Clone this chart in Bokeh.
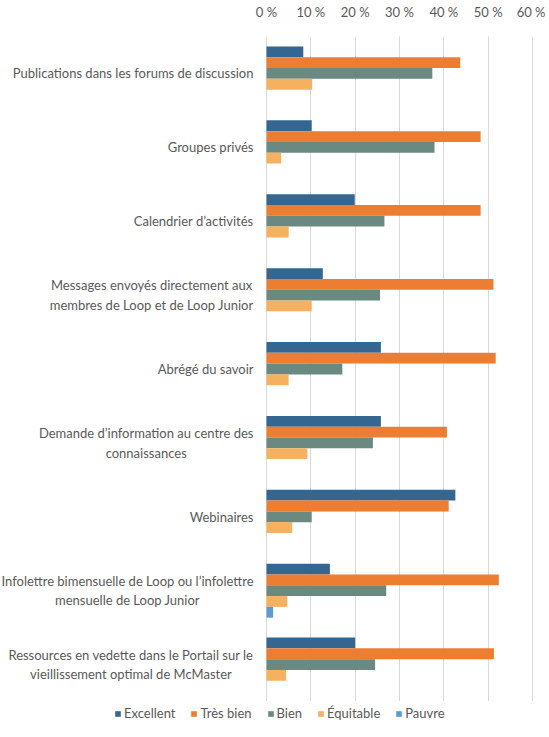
from bokeh.plotting import figure
from bokeh.models import FactorRange, ColumnDataSource, FixedTicker, Legend, LegendItem
from bokeh.layouts import column
from bokeh.transform import dodge
from bokeh.core.properties import value
from bokeh.embed import file_html
from bokeh.resources import INLINE

categories = [
    "Publications dans les forums de discussion",
    "Groupes privés",
    "Calendrier d’activités",
    "Messages envoyés directement aux\nmembres de Loop et de Loop Junior",
    "Abrégé du savoir",
    "Demande d’information au centre des\nconnaissances",
    "Webinaires",
    "Infolettre bimensuelle de Loop ou l’infolettre\nmensuelle de Loop Junior",
    "Ressources en vedette dans le Portail sur le\nvieillissement optimal de McMaster",
]
series = ["Excellent", "Très bien", "Bien", "Équitable", "Pauvre"]
excellent = [8.3, 10.2, 19.9, 12.7, 25.8, 25.8, 42.6, 14.3, 20.0]
tres_bien = [43.7, 48.3, 48.3, 51.2, 51.7, 40.7, 41.1, 52.4, 51.3]
bien = [37.4, 37.9, 26.6, 25.6, 17.1, 24.0, 10.2, 27.0, 24.5]
equitable = [10.3, 3.3, 5.0, 10.2, 5.0, 9.2, 5.8, 4.7, 4.4]
pauvre = [0, 0, 0, 0, 0, 0, 0, 1.5, 0]
tick_values = [0, 10, 20, 30, 40, 50, 60]
tick_labels = ["0 %", "10 %", "20 %", "30 %", "40 %", "50 %", "60 %"]

colors = ["#336791", "#ED7D31", "#6A8981", "#F5B060", "#5A9BD5"]
FONT = "Lato"
TXT = "#595959"
FS = "13px"

W = 545
ZERO_PX = 266       # where 0 % sits inside the figure
MAX_PX = 532        # where 60 % sits inside the figure
XMAX = 60
ppu = (MAX_PX - ZERO_PX) / XMAX
x_start = -ZERO_PX / ppu
x_end = (W - ZERO_PX) / ppu

src = ColumnDataSource(dict(cat=categories, e=excellent, tb=tres_bien, b=bien, q=equitable, p=pauvre,
                            zero=[0] * len(categories)))

p = figure(width=W, height=701, output_backend="svg", toolbar_location=None,
           y_range=FactorRange(*categories[::-1]), x_range=(x_start, x_end),
           x_axis_location="above",
           min_border_left=0, min_border_right=0, min_border_top=36, min_border_bottom=0)
p.outline_line_color = None
p.background_fill_color = "white"
p.border_fill_color = "white"

bh = 0.146
offsets = [2 * bh, bh, 0, -bh, -2 * bh]
fields = ["e", "tb", "b", "q", "p"]
for name, f, off, c in zip(series, fields, offsets, colors):
    p.hbar(y=dodge("cat", off, range=p.y_range), left="zero", right=f, height=bh,
           source=src, fill_color=c, line_color=None)

# category labels: block right-aligned next to the 0 line, lines centred
p.text(x="zero", y="cat", text="cat", source=src, x_offset=-13,
       anchor="center_right", text_align="center",
       text_font=value(FONT), text_font_size=value(FS), text_color=TXT, text_line_height=1.22)

p.xaxis.ticker = FixedTicker(ticks=tick_values)
p.xaxis.major_label_overrides = {v: l for v, l in zip(tick_values, tick_labels)}
p.xaxis.axis_line_color = None
p.xaxis.major_tick_line_color = None
p.xaxis.minor_tick_line_color = None
p.xaxis.major_label_standoff = 11
p.xaxis.major_label_text_font = FONT
p.xaxis.major_label_text_font_size = FS
p.xaxis.major_label_text_color = TXT
p.yaxis.visible = False

p.xgrid.ticker = FixedTicker(ticks=tick_values)
p.xgrid.grid_line_color = "#D9D9D9"
p.xgrid.grid_line_width = 1
p.ygrid.grid_line_color = None

# legend strip below the chart
lg = figure(width=W, height=20, output_backend="svg", toolbar_location=None,
            x_range=(0, 1), y_range=(0, 1), min_border=0)
lg.axis.visible = False
lg.grid.visible = False
lg.outline_line_color = None
items = []
for name, c in zip(series, colors):
    r = lg.hbar(y=[0], left=[0], right=[0], height=0, fill_color=c, line_color=None)
    items.append(LegendItem(label=name, renderers=[r]))
legend = Legend(items=items, orientation="horizontal", location=(114, 0),
                glyph_width=7, glyph_height=7, spacing=15, label_standoff=3,
                label_height=12, padding=0, margin=0, border_line_color=None,
                background_fill_alpha=0,
                label_text_font=FONT, label_text_font_size=FS, label_text_color=TXT)
lg.add_layout(legend, "center")

open("out.html", "w").write(file_html(column(p, lg, spacing=0), INLINE))
